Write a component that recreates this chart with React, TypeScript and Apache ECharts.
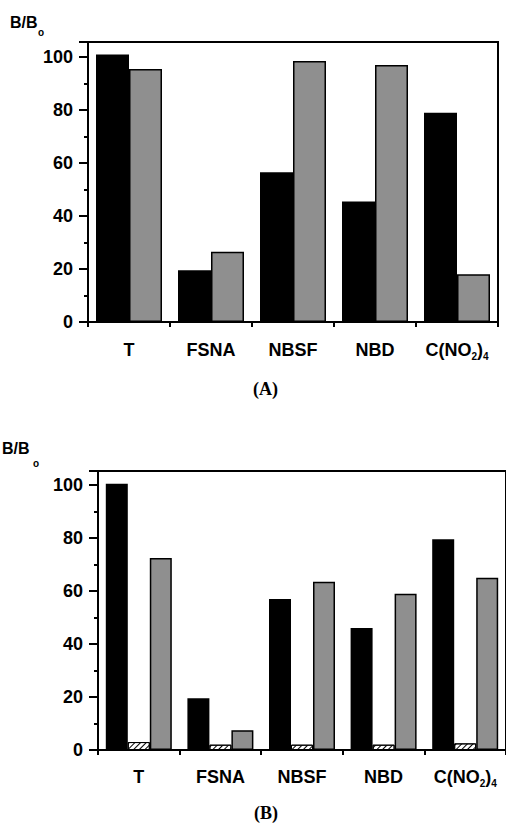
import React, { useEffect, useRef } from 'react';
import * as echarts from 'echarts';

const categories = ['T', 'FSNA', 'NBSF', 'NBD', 'C(NO2)4'];
const yTickValues = [0, 20, 40, 60, 80, 100];

// Panel A
const aBlack = [101, 19.5, 56.5, 45.5, 79];
const aGray = [95.5, 26.5, 98.5, 97, 18];

// Panel B
const bBlack = [100.5, 19.5, 57, 46, 79.5];
const bHatched = [3, 2, 2, 2, 2.5];
const bGray = [72.5, 7.5, 63.5, 59, 65];

const SANS = '"Liberation Sans", Arial, Helvetica, sans-serif';
const SERIF = '"Liberation Serif", "Times New Roman", serif';

export default function App() {
  const ref = useRef<HTMLDivElement>(null);

  useEffect(() => {
    if (!ref.current) return;
    const chart = echarts.init(ref.current, null, { renderer: 'svg' });

    const catFmt = (v: string) =>
      v === 'C(NO2)4' ? '{m|C(NO}{s|2}{m|)}{s|4}' : '{m|' + v + '}';
    const rich = {
      m: { fontFamily: SANS, fontSize: 18, fontWeight: 'bold', color: '#000', lineHeight: 22 },
      s: { fontFamily: SANS, fontSize: 10, fontWeight: 'bold', color: '#000', lineHeight: 8, verticalAlign: 'bottom' },
    };

    const xAxisCommon = (gridIndex: number, margin: number) => ({
      type: 'category',
      gridIndex,
      data: categories,
      boundaryGap: true,
      axisLine: { lineStyle: { color: '#000', width: 2 } },
      axisTick: { show: true, length: 5, inside: false, lineStyle: { color: '#000', width: 2 } },
      axisLabel: { margin, formatter: catFmt, rich, interval: 0 },
      splitLine: { show: false },
    });

    const yAxisCommon = (gridIndex: number, max: number) => ({
      type: 'value',
      gridIndex,
      min: 0,
      max,
      interval: 20,
      axisLine: { show: true, lineStyle: { color: '#000', width: 2 } },
      axisTick: { show: true, length: 9, lineStyle: { color: '#000', width: 2 } },
      minorTick: { show: true, splitNumber: 2, length: 4, lineStyle: { color: '#000', width: 2 } },
      axisLabel: {
        margin: 15,
        fontFamily: SANS,
        fontSize: 18,
        fontWeight: 'bold',
        color: '#000',
        showMaxLabel: false,
        formatter: (v: number) => (yTickValues.includes(v) ? String(v) : ''),
      },
      splitLine: { show: false },
    });

    const option: any = {
      animation: false,
      backgroundColor: '#fff',
      grid: [
        { left: 88, right: 8, top: 42, bottom: 825 - 322, show: true, borderColor: '#000', borderWidth: 2, containLabel: false },
        { left: 98, right: -3, top: 471, bottom: 825 - 750, show: true, borderColor: '#000', borderWidth: 2, containLabel: false },
      ],
      xAxis: [xAxisCommon(0, 17), xAxisCommon(1, 16)],
      yAxis: [yAxisCommon(0, 105.7), yAxisCommon(1, 105.3)],
      series: [
        {
          type: 'bar', xAxisIndex: 0, yAxisIndex: 0, data: aBlack,
          barWidth: 33, barGap: '0%',
          itemStyle: { color: '#000' },
        },
        {
          type: 'bar', xAxisIndex: 0, yAxisIndex: 0, data: aGray,
          barWidth: 33, barGap: '0%',
          itemStyle: { color: '#8f8f8f', borderColor: '#000', borderWidth: 1.5 },
        },
        {
          type: 'bar', xAxisIndex: 1, yAxisIndex: 1, data: bBlack,
          barWidth: 22, barGap: '0%',
          itemStyle: { color: '#000' },
        },
        {
          type: 'bar', xAxisIndex: 1, yAxisIndex: 1, data: bHatched,
          barWidth: 22, barGap: '0%',
          itemStyle: {
            color: '#fff', borderColor: '#000', borderWidth: 1,
            decal: {
              symbol: 'rect', symbolSize: 1, color: '#000', backgroundColor: '#fff',
              dashArrayX: [1, 0], dashArrayY: [1, 3], rotation: -Math.PI / 4,
            },
          },
        },
        {
          type: 'bar', xAxisIndex: 1, yAxisIndex: 1, data: bGray,
          barWidth: 22, barGap: '0%',
          itemStyle: { color: '#8f8f8f', borderColor: '#000', borderWidth: 1.5 },
        },
      ],
      graphic: [
        { type: 'text', left: 10, top: 14, style: { text: 'B/B', font: 'bold 16px ' + SANS, fill: '#000' } },
        { type: 'text', left: 38, top: 27, style: { text: 'o', font: 'bold 10px ' + SANS, fill: '#000' } },
        { type: 'text', left: 253, top: 380, style: { text: '(A)', font: 'bold 18px ' + SERIF, fill: '#000' } },
        { type: 'text', left: 2, top: 440, style: { text: 'B/B', font: 'bold 16px ' + SANS, fill: '#000' } },
        { type: 'text', left: 33, top: 458, style: { text: 'o', font: 'bold 10px ' + SANS, fill: '#000' } },
        { type: 'text', left: 254, top: 804, style: { text: '(B)', font: 'bold 18px ' + SERIF, fill: '#000' } },
      ],
    };

    chart.setOption(option);
    return () => chart.dispose();
  }, []);

  return (
    <div
      ref={ref}
      style={{ position: 'absolute', left: 0, top: 0, width: 506, height: 825, background: '#fff' }}
    />
  );
}
